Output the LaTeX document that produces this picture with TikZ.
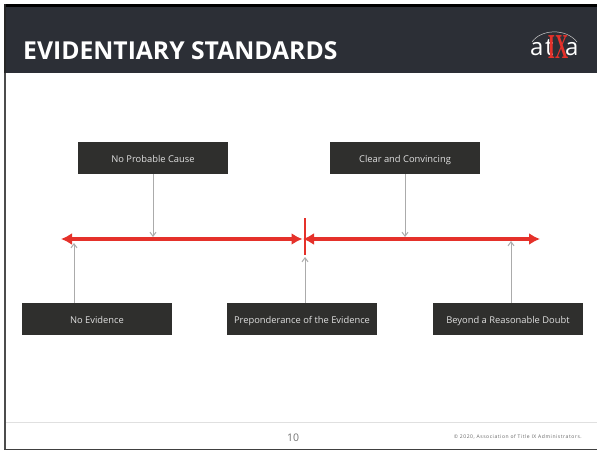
\documentclass[tikz,border=0pt]{standalone}
\usepackage{fontspec}
\setmainfont{Open Sans}
\usetikzlibrary{arrows.meta}
\definecolor{hdr}{HTML}{2C2F36}
\definecolor{boxc}{HTML}{2F2F2D}
\definecolor{redc}{HTML}{E5312A}
\definecolor{conn}{HTML}{ABABAB}
\newfontfamily\logoserif{Liberation Serif}
\tikzset{
  x=1pt,y=-1pt,
  darkbox/.style={fill=boxc,text=white!88!black,minimum width=150pt,minimum height=32pt,inner sep=0pt,text height=8.6pt,text depth=0pt,font=\fontsize{9.35pt}{10pt}\selectfont,anchor=center},
  redline/.style={draw=redc,line width=3.2pt},
  redhead/.tip={Latex[length=11pt,width=12pt]},
  thinarrow/.style={draw=conn,line width=1pt,-{Straight Barb[length=4pt,width=6pt]}},
  logotext/.style={text=white,inner sep=0pt,font=\fontsize{24pt}{24pt}\selectfont}
}
\begin{document}
\begin{tikzpicture}
\useasboundingbox (0,0) rectangle (597,450);
\fill[white] (0,0) rectangle (597,450);
% header and frame
\fill[hdr] (5,5) rectangle (597,73);
\fill[black] (4,4) rectangle (597,6.5);
\fill[black!85] (4,4) rectangle (6,73);
\fill[black!70] (4.4,73) rectangle (6,450);
\fill[black!75] (4.4,448.5) rectangle (597,450);
\draw[black!12,line width=0.8pt] (6,422.5) -- (597,422.5);
\node[anchor=west,text=white,inner sep=0pt,font=\bfseries\fontsize{24.7pt}{26pt}\selectfont] (title) at (23,51) {EVIDENTIARY STANDARDS};
% logo
\draw[white!80!black,line width=0.5pt] (532,42) .. controls (541,29) and (566,28) .. (577,42);
\node[logotext,anchor=base west] (logo) at (530,55) {a\kern1.5pt t\kern-5.6pt\raisebox{-3pt}{\textcolor{redc}{\logoserif\bfseries\fontsize{35pt}{35pt}\selectfont\scalebox{0.52}[1]{IX}}}\kern-3pt a};
% boxes
\node[darkbox] (npc) at (153,158) {No Probable Cause};
\node[darkbox] (cc) at (405,158) {Clear and Convincing};
\node[darkbox] (ne) at (97,319) {No Evidence};
\node[darkbox] (pe) at (302,319) {Preponderance of the Evidence};
\node[darkbox] (brd) at (508,319) {Beyond a Reasonable Doubt};
% axis
\coordinate (left) at (61,239);
\coordinate (right) at (540,239);
\coordinate (midl) at (302.5,239);
\coordinate (midr) at (303,239);
\coordinate (tickt) at (305,218);
\coordinate (tickb) at (305,255);
\draw[redc,line width=2.4pt] (tickt) -- (tickb);
\draw[redline,{redhead}-{redhead}] (left) -- (midl);
\draw[redline,{redhead}-{redhead}] (midr) -- (right);
% connectors
\coordinate (a1) at (153,237);
\coordinate (a2) at (405,237);
\coordinate (a3) at (74,243);
\coordinate (a4) at (305,257);
\coordinate (a5) at (511,241);
\draw[thinarrow] (153,174) -- (a1);
\draw[thinarrow] (405,174) -- (a2);
\draw[thinarrow] (74,303) -- (a3);
\draw[thinarrow] (305,303) -- (a4);
\draw[thinarrow] (511,303) -- (a5);
% footer
\node[text=black!55,inner sep=0pt,font=\fontsize{10.5pt}{12pt}\selectfont] (pg) at (293,438) {10};
\node[anchor=east,text=black!60,inner sep=0pt,font=\addfontfeature{LetterSpace=11}\fontsize{5pt}{6pt}\selectfont] (copy) at (582,437) {© 2020, Association of Title IX Administrators.};
\end{tikzpicture}
\end{document}
